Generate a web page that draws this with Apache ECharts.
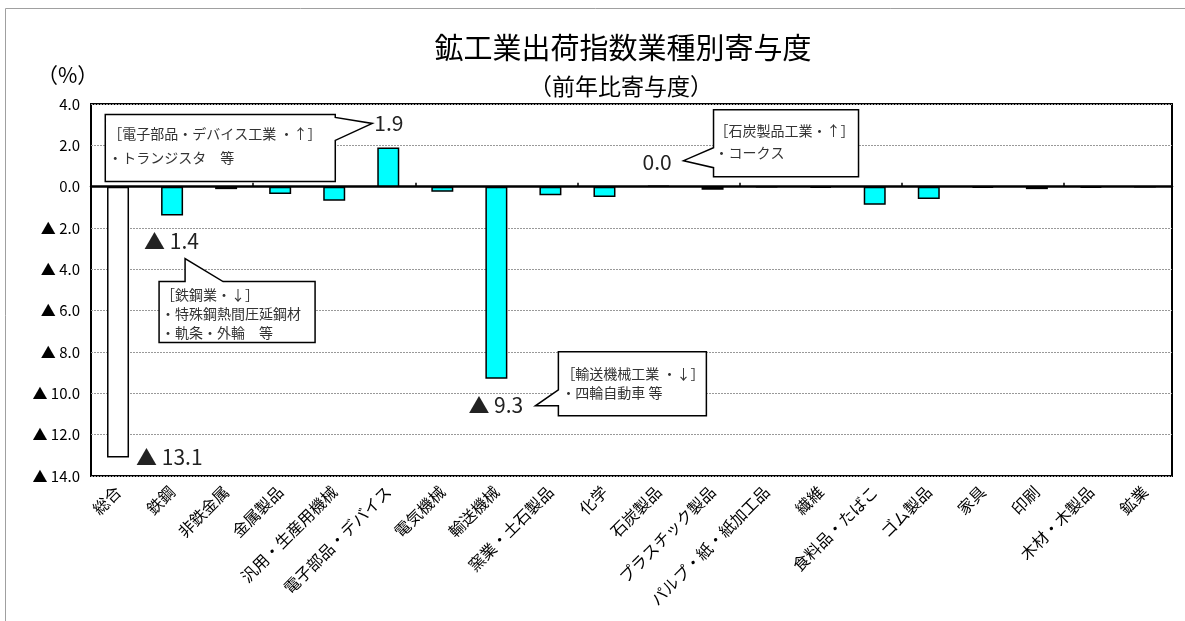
<!DOCTYPE html>
<html><head><meta charset="utf-8">
<script src="https://cdn.jsdelivr.net/npm/echarts@6/dist/echarts.min.js"></script>
<style>html,body{margin:0;padding:0;background:#fff;}#c{width:1185px;height:621px;}</style>
</head><body><div id="c"></div>
<script>
const categories = ['総合','鉄鋼','非鉄金属','金属製品','汎用・生産用機械','電子部品・デバイス','電気機械','輸送機械','窯業・土石製品','化学','石炭製品','プラスチック製品','パルプ・紙・紙加工品','繊維','食料品・たばこ','ゴム製品','家具','印刷','木材・木製品','鉱業'];
const values = [-13.1,-1.4,-0.12,-0.35,-0.68,1.9,-0.25,-9.3,-0.42,-0.5,0.04,-0.15,-0.02,-0.06,-0.88,-0.6,-0.06,-0.12,-0.05,-0.01];
const yTicks = {min:-14, max:4, interval:2};
const callouts = [
  {cat:'電子部品・デバイス', val:1.9, label:'1.9', lines:['［電子部品・デバイス工業 ・↑］','・トランジスタ　等']},
  {cat:'石炭製品', val:0.0, label:'0.0', lines:['［石炭製品工業・↑］','・コークス']},
  {cat:'鉄鋼', val:-1.4, label:'▲ 1.4', lines:['［鉄鋼業・↓］','・特殊鋼熱間圧延鋼材','・軌条・外輪　等']},
  {cat:'輸送機械', val:-9.3, label:'▲ 9.3', lines:['［輸送機械工業 ・↓］','・四輪自動車 等']},
  {cat:'総合', val:-13.1, label:'▲ 13.1', lines:[]}
];
const FF = "'Noto Sans CJK JP','Noto Sans',sans-serif";
function fmt(v){ return v < 0 ? '▲ ' + (-v).toFixed(1) : v.toFixed(1); }

const chart = echarts.init(document.getElementById('c'));
const option = {
  animation:false,
  textStyle:{fontFamily:FF},
  title:[
    {text:'鉱工業出荷指数業種別寄与度', left:618, top:28, textAlign:'center', textStyle:{fontSize:29, fontWeight:'normal', color:'#000', fontFamily:FF}},
    {text:'（前年比寄与度）', left:616, top:70, textAlign:'center', textStyle:{fontSize:23, fontWeight:'normal', color:'#000', fontFamily:FF}},
    {text:'（%）', left:32, top:60, textStyle:{fontSize:21, fontWeight:'normal', color:'#000', fontFamily:FF}}
  ],
  grid:{left:91, top:104, width:1081, height:372, show:true, borderColor:'#000', borderWidth:2, containLabel:false},
  xAxis:[
    {type:'category', data:categories, position:'bottom',
     axisLine:{show:false, onZero:false}, axisTick:{show:false},
     axisLabel:{rotate:45, fontSize:16, color:'#000', margin:13, interval:0, fontFamily:FF}},
    {type:'category', data:categories, position:'bottom',
     axisLine:{show:true, onZero:true, lineStyle:{color:'#000', width:2.5}},
     axisTick:{show:true, inside:true, length:4, lineStyle:{color:'#000', width:1.5}},
     axisLabel:{show:false}}
  ],
  yAxis:{type:'value', min:yTicks.min, max:yTicks.max, interval:yTicks.interval,
    axisLine:{show:false}, axisTick:{show:false},
    axisLabel:{formatter:fmt, fontSize:15, color:'#000', margin:11, fontFamily:FF},
    splitLine:{show:true, lineStyle:{color:'#999', type:[2,1], width:1}}},
  series:[{
    type:'bar', xAxisIndex:0, yAxisIndex:0, barWidth:22,
    data: values.map((v,i)=> i===0 ? {value:v, itemStyle:{color:'#fff'}} : v),
    itemStyle:{color:'#00ffff', borderColor:'#000', borderWidth:1.5}
  }]
};
chart.setOption(option);

// Callout geometry, offsets in px relative to each bar end
const geom = {
  '電子部品・デバイス': {lab:[-14,-24], poly:[[-283,-33],[-53,-33],[-53,-30],[-16,-24],[-53,-7],[-53,34],[-283,34]], tx:-280, ty:[-14,10]},
  '石炭製品': {lab:[-16,-25], poly:[[55,-77],[200,-77],[200,-10],[55,-10],[55,-19],[25,-26],[55,-39]], tx:56, ty:[-56,-34]},
  '鉄鋼': {lab:[-28,25], poly:[[-13,66],[13,66],[13,43],[51,66],[143,66],[143,127],[-13,127]], tx:-11, ty:[79,98,117]},
  '輸送機械': {lab:[-28,26], poly:[[62,-27],[210,-27],[210,37],[62,37],[62,27],[39,27],[62,11]], tx:65, ty:[-5,14]},
  '総合': {lab:[18,0], poly:null, tx:0, ty:[]}
};
const g = [{type:'rect', shape:{x:5.5, y:8.5, width:1200, height:700}, style:{fill:'none', stroke:'#a0a0a0', lineWidth:1}, z:-10}];
callouts.forEach(c=>{
  const p = chart.convertToPixel({xAxisIndex:0, yAxisIndex:0}, [c.cat, c.val]);
  const gm = geom[c.cat];
  if (gm.poly) {
    g.push({type:'polygon', shape:{points: gm.poly.map(q=>[p[0]+q[0], p[1]+q[1]])},
      style:{fill:'#fff', stroke:'#000', lineWidth:1.5}, z:50});
    c.lines.forEach((t,i)=>{
      g.push({type:'text', x:p[0]+gm.tx, y:p[1]+gm.ty[i], z:51,
        style:{text:t, fontSize:14, fontFamily:FF, fill:'#333', verticalAlign:'middle', align:'left'}});
    });
  }
  g.push({type:'text', x:p[0]+gm.lab[0], y:p[1]+gm.lab[1], z:51,
    style:{text:c.label, fontSize:21, fontFamily:FF, fill:'#222', verticalAlign:'middle', align:'left'}});
});
chart.setOption({graphic:g});
</script>
</body></html>
